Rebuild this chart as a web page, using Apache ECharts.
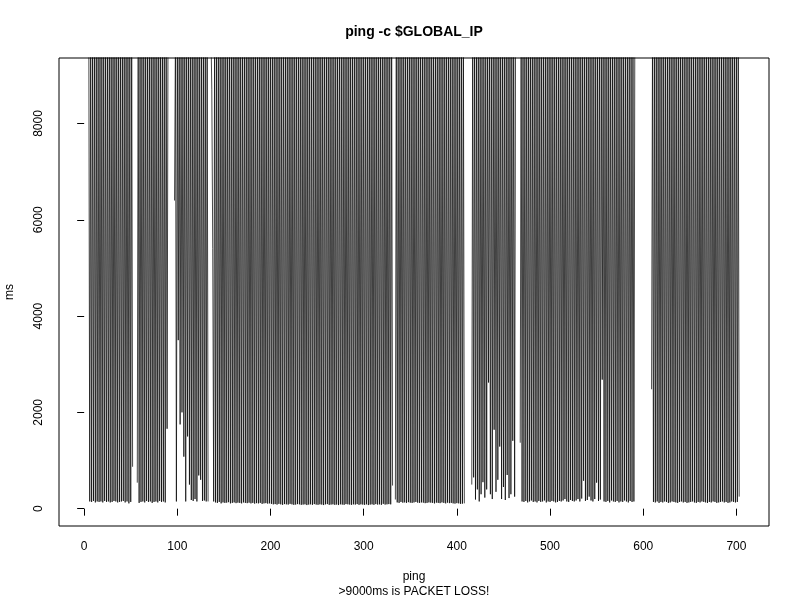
<!DOCTYPE html>
<html>
<head>
<meta charset="utf-8">
<script src="https://cdn.jsdelivr.net/npm/echarts@6/dist/echarts.min.js"></script>
<style>html,body{margin:0;padding:0;background:#fff}#c{width:800px;height:600px}</style>
</head>
<body>
<div id="c"></div>
<script>
// Ping times (ms) by ping number, starting at ping 1. 1e4 = packet loss (drawn off the top), null = no data.
const segA = [null,null,null,null];
const segB = [1e4,150,1e4,140,1e4,160,1e4,130,1e4,150,1e4,140,1e4,150,1e4,130,1e4,160,1e4,140,1e4,150,1e4,130,1e4,140,1e4,160,1e4,150,1e4,130,1e4,140,1e4,150,1e4,160,1e4,130,1e4,150,1e4,110,1e4,140,1e4,870];
const segC = [null,null,null,null];
const segD = [540,1e4,120,1e4,140,1e4,150,1e4,130,1e4,160,1e4,140,1e4,150,1e4,120,1e4,140,1e4,150,1e4,130,1e4,160,1e4,140,1e4,150,1e4,130,1e4,1660,1e4];
const segE = [null,null,null,null,null,null];
const segF = [6400,1e4,150,1e4,3500,1e4,1750,1e4,2000,1e4,1080,1e4,150,1e4,1500,1e4,500,1e4,180,1e4,160,1e4,200,1e4,150,1e4,690,1e4,600,1e4,160,1e4,170,1e4,150,1e4,150];
const segG = [null,null];
const segH = [1e4,8700,5400,150,
1e4,130,1e4,120,1e4,140,1e4,110,1e4,130,1e4,120,1e4,125,1e4,135,1e4,110,1e4,120,
1e4,130,1e4,115,1e4,125,1e4,120,1e4,110,1e4,130,1e4,120,1e4,115,1e4,125,1e4,110,
1e4,120,1e4,105,1e4,115,1e4,110,1e4,120,1e4,100,1e4,110,1e4,115,1e4,105,1e4,110,
1e4,100,1e4,90,1e4,95,1e4,85,1e4,100,1e4,90,1e4,80,1e4,95,1e4,90,1e4,85,
1e4,100,1e4,90,1e4,80,1e4,85,1e4,95,1e4,90,1e4,80,1e4,85,1e4,90,1e4,75,
1e4,85,1e4,90,1e4,80,1e4,95,1e4,85,1e4,80,1e4,90,1e4,85,1e4,75,1e4,90,
1e4,95,1e4,80,1e4,85,1e4,90,1e4,80,1e4,85,1e4,75,1e4,90,1e4,85,1e4,80,
1e4,95,1e4,90,1e4,85,1e4,80,1e4,90,1e4,85,1e4,95,1e4,80,1e4,90,1e4,85,
1e4,80,1e4,90,1e4,75,1e4,85,1e4,90,1e4,80,1e4,95,1e4,85,1e4,90,1e4,80,
1e4,100,1e4,85,1e4,90,1e4,95,1e4,90,
1e4,480];
const segI = [null,null];
const segJ = [190,
1e4,130,1e4,120,1e4,140,1e4,125,1e4,130,1e4,120,1e4,135,1e4,125,1e4,120,1e4,130,
1e4,140,1e4,125,1e4,120,1e4,130,1e4,125,1e4,115,1e4,120,1e4,130,1e4,125,1e4,120,
1e4,110,1e4,125,1e4,120,1e4,115,1e4,130,1e4,120,1e4,110,1e4,125,1e4,115,1e4,120,
1e4,110,1e4,105,1e4,115,1e4,110,1e4,100,1e4,105,1e4,110];
const segK = [null,null,null,null,null,null,null];
const segL = [500,1e4,650,1e4,190,1e4,400,1e4,150,1e4,300,1e4,550,1e4,230,1e4,400,1e4,2620,1e4,300,1e4,200,1e4,1640,1e4,350,1e4,600,1e4,1290,1e4,200,1e4,450,1e4,180,1e4,700,1e4,220,1e4,300,1e4,1410,1e4,250,1e4,null,null,null,null];
const segM = [1370,
1e4,150,1e4,140,1e4,160,1e4,130,1e4,150,1e4,170,1e4,140,1e4,150,1e4,130,1e4,160,
1e4,140,1e4,150,1e4,170,1e4,130,1e4,150,1e4,140,1e4,160,1e4,150,1e4,130,1e4,140,
1e4,160,1e4,150,1e4,170,1e4,200,1e4,150,1e4,140,1e4,180,1e4,160,1e4,150,1e4,170,
1e4,200,1e4,150,1e4,210,1e4,580,1e4,160,1e4,180,1e4,250,1e4,170,1e4,150,1e4,200,
1e4,540,1e4,160,1e4,190,1e4,2680,1e4,150,1e4,140,1e4,160,1e4,130,1e4,170,1e4,150,
1e4,140,1e4,160,1e4,130,1e4,150,1e4,140,1e4,170,1e4,150,1e4,130,1e4,160,1e4,140,
1e4,150,
1e4];
const segN = [null,null,null,null,null,null,null,null,null,null,null,null,null,null,null,null,null];
const segO = [2480,
1e4,140,1e4,130,1e4,150,1e4,120,1e4,140,1e4,130,1e4,150,1e4,140,1e4,120,1e4,130,
1e4,150,1e4,140,1e4,130,1e4,120,1e4,140,1e4,150,1e4,130,1e4,140,1e4,120,1e4,130,
1e4,140,1e4,150,1e4,130,1e4,120,1e4,140,1e4,130,1e4,150,1e4,140,1e4,130,1e4,120,
1e4,140,1e4,130,1e4,150,1e4,140,1e4,120,1e4,130,1e4,140,1e4,150,1e4,130,1e4,140,
1e4,120,1e4,130,1e4,150,1e4,140,1e4,130,1e4,140,1e4,250];

const xTicks = [0,100,200,300,400,500,600,700];
const yTicks = [0,2000,4000,6000,8000];

const values = [].concat(segA,segB,segC,segD,segE,segF,segG,segH,segI,segJ,segK,segL,segM,segN,segO);
const data = values.map((v,i)=>[i+1, v]);

const FONT = 'Liberation Sans, Arial, sans-serif';
const chart = echarts.init(document.getElementById('c'), null, {renderer:'canvas'});
chart.setOption({
  animation:false,
  backgroundColor:'#fff',
  grid:{left:59,right:31,top:58,bottom:74,show:true,borderColor:'#000',borderWidth:1,backgroundColor:'transparent'},
  xAxis:{type:'value',min:-27,max:735,
    axisLine:{show:false},
    splitLine:{show:false},
    axisTick:{show:true,inside:false,length:7,lineStyle:{color:'#000',width:1},customValues:xTicks},
    axisLabel:{customValues:xTicks,color:'#000',fontSize:12,fontFamily:FONT,margin:15,formatter:v=>String(v)}
  },
  yAxis:{type:'value',min:-360,max:9360,
    axisLine:{show:false},
    splitLine:{show:false},
    axisTick:{show:true,inside:false,length:7,lineStyle:{color:'#000',width:1},customValues:yTicks},
    axisLabel:{customValues:yTicks,color:'#000',fontSize:12,fontFamily:FONT,margin:14,rotate:90,formatter:v=>String(v)}
  },
  series:[{type:'line',data:data,showSymbol:false,symbol:'none',sampling:null,connectNulls:false,clip:true,
    lineStyle:{color:'#000',width:1,opacity:0.72},silent:true}],
  graphic:[
    {type:'text',x:414,y:32,style:{text:'ping -c $GLOBAL_IP',fill:'#000',font:'bold 14px '+FONT,textAlign:'center',textVerticalAlign:'middle'}},
    {type:'text',x:414,y:577,style:{text:'ping',fill:'#000',font:'12px '+FONT,textAlign:'center',textVerticalAlign:'middle'}},
    {type:'text',x:414,y:592,style:{text:'>9000ms is PACKET LOSS!',fill:'#000',font:'12px '+FONT,textAlign:'center',textVerticalAlign:'middle'}},
    {type:'text',x:10,y:292,rotation:Math.PI/2,style:{text:'ms',fill:'#000',font:'12px '+FONT,textAlign:'center',textVerticalAlign:'middle'}}
  ]
});
</script>
</body>
</html>
